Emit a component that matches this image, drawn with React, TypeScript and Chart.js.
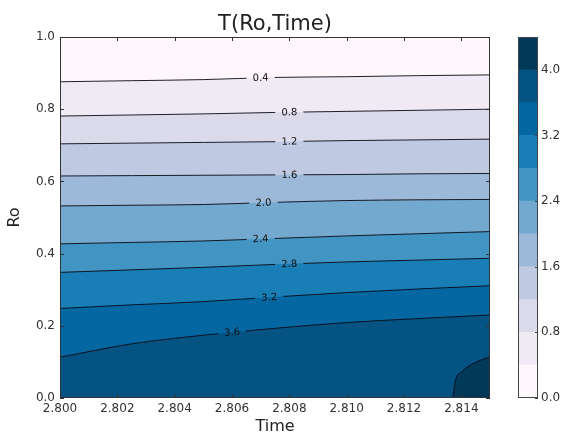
import React, { useEffect, useRef } from 'react';
import { Chart, registerables } from 'chart.js';

Chart.register(...registerables);
Chart.defaults.font.family = "'DejaVu Sans', sans-serif";

// ---- data ----
const timeGrid = [2.8, 2.8025, 2.805, 2.8075, 2.81, 2.8125, 2.815];
const levels = [0.4, 0.8, 1.2, 1.6, 2.0, 2.4, 2.8, 3.2, 3.6];
const ro04 = [0.876, 0.879, 0.882, 0.888, 0.89, 0.893, 0.895];
const ro08 = [0.781, 0.784, 0.787, 0.791, 0.794, 0.797, 0.8];
const ro12 = [0.704, 0.706, 0.708, 0.71, 0.713, 0.715, 0.717];
const ro16 = [0.615, 0.616, 0.617, 0.618, 0.619, 0.621, 0.622];
const ro20 = [0.532, 0.534, 0.536, 0.542, 0.547, 0.549, 0.55];
const ro24 = [0.427, 0.431, 0.435, 0.442, 0.449, 0.455, 0.461];
const ro28 = [0.348, 0.355, 0.362, 0.37, 0.377, 0.382, 0.387];
const ro32 = [0.248, 0.258, 0.267, 0.28, 0.292, 0.302, 0.311];
const ro36 = [0.113, 0.15, 0.174, 0.193, 0.209, 0.22, 0.23];
const contourRo = [ro04, ro08, ro12, ro16, ro20, ro24, ro28, ro32, ro36];
const labelTimes = [2.807, 2.808, 2.808, 2.808, 2.8071, 2.807, 2.808, 2.8073, 2.806];
const blobLevel = 4.0;
const blobTime = [2.8137, 2.8138, 2.814, 2.8144, 2.815];
const blobRo = [0.0, 0.05, 0.072, 0.095, 0.114];
const cbarLevels = [0.0, 0.4, 0.8, 1.2, 1.6, 2.0, 2.4, 2.8, 3.2, 3.6, 4.0, 4.4];
const cbarTicks = [0.0, 0.8, 1.6, 2.4, 3.2, 4.0];
const xTicks = [2.8, 2.802, 2.804, 2.806, 2.808, 2.81, 2.812, 2.814];
const yTicks = [0.0, 0.2, 0.4, 0.6, 0.8, 1.0];
const bandColors = ['#fff7fb', '#f0eaf4', '#dbdaeb', '#bfc9e2', '#9cb9d9', '#74a9cf', '#4295c3', '#197db6', '#0567a2', '#045382', '#023858'];

const LINE_COLOR = 'rgba(10,10,20,0.9)';
const TEXT_COLOR = '#333';

export default function App() {
  const mainRef = useRef<HTMLCanvasElement>(null);
  const cbRef = useRef<HTMLCanvasElement>(null);

  useEffect(() => {
    if (!mainRef.current || !cbRef.current) return;

    // datasets: highest level first so it is drawn on top
    const datasets: any[] = [];
    datasets.push({
      label: blobLevel.toFixed(1),
      data: blobTime.map((t, i) => ({ x: t, y: blobRo[i] })),
      borderColor: LINE_COLOR,
      borderWidth: 1,
      backgroundColor: bandColors[10],
      fill: 'start',
      pointRadius: 0,
      cubicInterpolationMode: 'monotone',
    });
    for (let i = levels.length - 1; i >= 0; i--) {
      datasets.push({
        label: levels[i].toFixed(1),
        data: timeGrid.map((t, j) => ({ x: t, y: contourRo[i][j] })),
        borderColor: LINE_COLOR,
        borderWidth: 1,
        backgroundColor: bandColors[i + 1],
        fill: 'start',
        pointRadius: 0,
        cubicInterpolationMode: 'monotone',
      });
    }
    const dsIndexOfLevel = (i: number) => 1 + (levels.length - 1 - i);

    const bgPlugin = {
      id: 'bg',
      beforeDraw(chart: any) {
        const { ctx, chartArea: a } = chart;
        ctx.save();
        ctx.fillStyle = bandColors[0];
        ctx.fillRect(a.left, a.top, a.width, a.height);
        ctx.restore();
      },
    };

    const labelPlugin = {
      id: 'clabels',
      afterDatasetsDraw(chart: any) {
        const { ctx, chartArea: a, scales } = chart;
        const xs = scales.x;
        ctx.save();
        ctx.font = "10px 'DejaVu Sans', sans-serif";
        for (let i = 0; i < levels.length; i++) {
          const meta = chart.getDatasetMeta(dsIndexOfLevel(i));
          const line = meta.dataset;
          const px = xs.getPixelForValue(labelTimes[i]);
          const p = line.interpolate({ x: px }, 'x');
          const p1 = line.interpolate({ x: px - 8 }, 'x');
          const p2 = line.interpolate({ x: px + 8 }, 'x');
          if (!p) continue;
          const ang = p1 && p2 ? Math.atan2(p2.y - p1.y, p2.x - p1.x) : 0;
          const text = levels[i].toFixed(1);
          const w = ctx.measureText(text).width;
          const gw = w + 12;
          const gh = 8;
          // clear the line under the label
          ctx.save();
          ctx.translate(p.x, p.y);
          ctx.rotate(ang);
          ctx.beginPath();
          ctx.rect(-gw / 2, -gh / 2, gw, gh);
          ctx.clip();
          ctx.rotate(-ang);
          ctx.translate(-p.x, -p.y);
          ctx.fillStyle = bandColors[i];
          ctx.fillRect(a.left, a.top, a.width, a.height);
          ctx.beginPath();
          line.path(ctx);
          ctx.lineTo(a.right, a.bottom);
          ctx.lineTo(a.left, a.bottom);
          ctx.closePath();
          ctx.fillStyle = bandColors[i + 1];
          ctx.fill();
          ctx.restore();
          // label
          ctx.save();
          ctx.translate(p.x, p.y);
          ctx.rotate(ang);
          ctx.fillStyle = '#111';
          ctx.textAlign = 'center';
          ctx.textBaseline = 'middle';
          ctx.fillText(text, 0, 0.5);
          ctx.restore();
        }
        ctx.restore();
      },
      afterDraw(chart: any) {
        const { ctx, chartArea: a, scales } = chart;
        ctx.save();
        ctx.strokeStyle = '#333';
        ctx.lineWidth = 1;
        ctx.strokeRect(a.left + 0.5, a.top + 0.5, a.width - 1, a.height - 1);
        const tl = 4;
        ctx.beginPath();
        for (const v of xTicks) {
          const x = Math.round(scales.x.getPixelForValue(v)) + 0.5;
          ctx.moveTo(x, a.bottom);
          ctx.lineTo(x, a.bottom - tl);
          ctx.moveTo(x, a.top);
          ctx.lineTo(x, a.top + tl);
        }
        for (const v of yTicks) {
          const y = Math.round(scales.y.getPixelForValue(v)) + 0.5;
          ctx.moveTo(a.left, y);
          ctx.lineTo(a.left + tl, y);
          ctx.moveTo(a.right, y);
          ctx.lineTo(a.right - tl, y);
        }
        ctx.stroke();
        ctx.restore();
      },
    };

    const main = new Chart(mainRef.current, {
      type: 'line',
      data: { datasets },
      plugins: [bgPlugin, labelPlugin],
      options: {
        responsive: false,
        animation: false,
        events: [],
        layout: { padding: { left: 0, right: 76, top: 0, bottom: 0 } },
        plugins: {
          legend: { display: false },
          tooltip: { enabled: false },
          filler: { drawTime: 'beforeDatasetsDraw' } as any,
          title: {
            display: true,
            text: 'T(Ro,Time)',
            fullSize: false,
            color: '#222',
            font: { size: 21, weight: 'normal', lineHeight: 25 / 21 },
            padding: { top: 12, bottom: 0 },
          },
        },
        scales: {
          x: {
            type: 'linear',
            min: 2.8,
            max: 2.815,
            grid: { display: false, drawTicks: false },
            border: { display: false },
            afterBuildTicks: (s: any) => {
              s.ticks = xTicks.map((v) => ({ value: v }));
            },
            afterFit: (s: any) => {
              s.height = 37;
            },
            ticks: {
              autoSkip: false,
              maxRotation: 0,
              padding: 4,
              color: TEXT_COLOR,
              font: { size: 12 },
              callback: (v: any) => Number(v).toFixed(3),
            },
            title: {
              display: true,
              text: 'Time',
              color: '#222',
              font: { size: 16, lineHeight: 1 },
              padding: 0,
            },
          },
          y: {
            type: 'linear',
            min: 0,
            max: 1,
            grid: { display: false, drawTicks: false },
            border: { display: false },
            afterBuildTicks: (s: any) => {
              s.ticks = yTicks.map((v) => ({ value: v }));
            },
            afterFit: (s: any) => {
              s.width = 60;
            },
            ticks: {
              padding: 5,
              color: TEXT_COLOR,
              font: { size: 12 },
              callback: (v: any) => Number(v).toFixed(1),
            },
            title: {
              display: true,
              text: 'Ro',
              color: '#222',
              font: { size: 16, lineHeight: 1 },
              padding: { top: 7, bottom: 0 },
            },
          },
        },
      },
    } as any);

    // ---- colorbar ----
    const cbDatasets = bandColors.map((c, i) => ({
      label: cbarLevels[i].toFixed(1),
      data: [cbarLevels[i + 1] - cbarLevels[i]],
      backgroundColor: c,
      borderWidth: 0,
      barPercentage: 1,
      categoryPercentage: 1,
      stack: 'cb',
    }));

    const cbPlugin = {
      id: 'cbframe',
      afterDraw(chart: any) {
        const { ctx, chartArea: a, scales } = chart;
        ctx.save();
        ctx.strokeStyle = '#444';
        ctx.lineWidth = 1;
        ctx.strokeRect(a.left + 0.5, a.top + 0.5, a.width - 1, a.height - 1);
        ctx.beginPath();
        for (const v of cbarTicks) {
          const y = Math.round(scales.y.getPixelForValue(v)) + 0.5;
          ctx.moveTo(a.right, y);
          ctx.lineTo(a.right - 3, y);
        }
        ctx.stroke();
        ctx.restore();
      },
    };

    const cb = new Chart(cbRef.current, {
      type: 'bar',
      data: { labels: ['T'], datasets: cbDatasets },
      plugins: [cbPlugin],
      options: {
        responsive: false,
        animation: false,
        events: [],
        layout: { padding: { left: 18, right: 0, top: 37, bottom: 37 } },
        plugins: { legend: { display: false }, tooltip: { enabled: false } },
        scales: {
          x: { display: false, stacked: true },
          y: {
            position: 'right',
            stacked: true,
            min: 0,
            max: 4.4,
            grid: { display: false, drawTicks: false },
            border: { display: false },
            afterBuildTicks: (s: any) => {
              s.ticks = cbarTicks.map((v) => ({ value: v }));
            },
            afterFit: (s: any) => {
              s.width = 28;
            },
            ticks: {
              padding: 3,
              color: TEXT_COLOR,
              font: { size: 12 },
              callback: (v: any) => Number(v).toFixed(1),
            },
          },
        },
      },
    } as any);

    return () => {
      main.destroy();
      cb.destroy();
    };
  }, []);

  return (
    <div style={{ position: 'fixed', left: 0, top: 0, width: 566, height: 435, background: '#fff' }}>
      <canvas ref={mainRef} width={566} height={435} style={{ position: 'absolute', left: 0, top: 0 }} />
      <canvas ref={cbRef} width={66} height={435} style={{ position: 'absolute', left: 500, top: 0 }} />
    </div>
  );
}
